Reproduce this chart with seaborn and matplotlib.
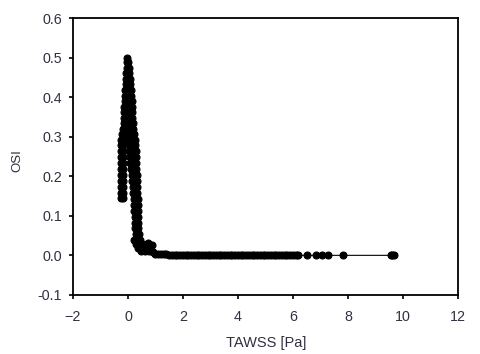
import numpy as np
import pandas as pd
import matplotlib
matplotlib.use("Agg")
import matplotlib.pyplot as plt
import seaborn as sns

# --- DADOS ---
# faixa esquerda do pico (TAWSS < 0)
band_x = [-0.27, -0.18, -0.27, -0.18, -0.27, -0.18, -0.27, -0.18, -0.27, -0.18,
          -0.27, -0.18, -0.27, -0.18, -0.27, -0.18, -0.27, -0.18, -0.27, -0.18]
band_y = [0.145, 0.145, 0.158, 0.158, 0.173, 0.173, 0.188, 0.188, 0.203, 0.203,
          0.218, 0.218, 0.233, 0.233, 0.248, 0.248, 0.263, 0.263, 0.278, 0.278]

# parte superior do pico
peak_x = [-0.02,
          -0.04, 0.01,
          -0.05, 0.03,
          -0.06, 0.04,
          -0.07, 0.06,
          -0.08, 0.00, 0.08,
          -0.09, 0.00, 0.10,
          -0.10, 0.01, 0.12,
          -0.11, 0.01, 0.13,
          -0.13, 0.00, 0.14,
          -0.14, 0.00, 0.15,
          -0.15, 0.00, 0.16,
          -0.16, 0.00, 0.18,
          -0.18, 0.00, 0.20,
          -0.20, -0.05, 0.08, 0.22,
          -0.24, -0.10, 0.05, 0.24]
peak_y = [0.500,
          0.488, 0.488,
          0.474, 0.474,
          0.460, 0.460,
          0.446, 0.446,
          0.432, 0.432, 0.432,
          0.418, 0.418, 0.418,
          0.404, 0.404, 0.404,
          0.390, 0.390, 0.390,
          0.376, 0.376, 0.376,
          0.362, 0.362, 0.362,
          0.348, 0.348, 0.348,
          0.334, 0.334, 0.334,
          0.320, 0.320, 0.320,
          0.306, 0.306, 0.306, 0.306,
          0.292, 0.292, 0.292, 0.292]

# descida do lado direito
drop_x = [0.03, 0.14, 0.26,
          0.05, 0.16, 0.28,
          0.07, 0.18, 0.29,
          0.09, 0.20, 0.30,
          0.11, 0.22, 0.31,
          0.13, 0.24, 0.32,
          0.15, 0.25, 0.33,
          0.17, 0.26, 0.34,
          0.20, 0.34,
          0.21, 0.35,
          0.22, 0.35,
          0.23, 0.36,
          0.24, 0.36,
          0.25, 0.37,
          0.26, 0.38,
          0.28, 0.40]
drop_y = [0.278, 0.278, 0.278,
          0.263, 0.263, 0.263,
          0.248, 0.248, 0.248,
          0.233, 0.233, 0.233,
          0.218, 0.218, 0.218,
          0.203, 0.203, 0.203,
          0.188, 0.188, 0.188,
          0.173, 0.173, 0.173,
          0.158, 0.158,
          0.143, 0.143,
          0.128, 0.128,
          0.113, 0.113,
          0.098, 0.098,
          0.083, 0.083,
          0.068, 0.068,
          0.053, 0.053]

# cotovelo
elbow_x = [0.22, 0.32, 0.42, 0.30, 0.40, 0.50, 0.36, 0.46, 0.56, 0.66,
           0.72, 0.86, 0.48, 0.62, 0.76, 0.90]
elbow_y = [0.040, 0.040, 0.040, 0.028, 0.028, 0.028, 0.018, 0.018, 0.018, 0.018,
           0.030, 0.025, 0.010, 0.010, 0.010, 0.008]

# cauda (OSI ~ 0)
tail_x = [1.0, 1.1, 1.2, 1.3, 1.4, 1.5, 1.6, 1.7, 1.8, 1.9,
          2.0, 2.1, 2.2, 2.3, 2.4, 2.5, 2.6, 2.7, 2.8, 2.9,
          3.0, 3.1, 3.2, 3.3, 3.4, 3.5, 3.6, 3.7, 3.8, 3.9,
          4.0, 4.1, 4.2, 4.3, 4.4, 4.5, 4.6, 4.7, 4.8, 4.9,
          5.0, 5.1, 5.2, 5.3, 5.4, 5.5, 5.6, 5.7, 5.8, 5.9,
          6.0, 6.1, 6.2]
tail_y = [0.004, 0.004, 0.003, 0.003, 0.003, 0.002, 0.002, 0.002, 0.002, 0.002,
          0.001, 0.001, 0.001, 0.001, 0.001, 0.001, 0.001, 0.001, 0.001, 0.001,
          0.001, 0.001, 0.001, 0.001, 0.001, 0.0, 0.0, 0.0, 0.0, 0.0,
          0.0, 0.0, 0.0, 0.0, 0.0, 0.0, 0.0, 0.0, 0.0, 0.0,
          0.0, 0.0, 0.0, 0.0, 0.0, 0.0, 0.0, 0.0, 0.0, 0.0,
          0.0, 0.0, 0.0]

# pontos isolados no fim da cauda
outlier_x = [6.5, 6.85, 7.05, 7.27, 7.82, 9.55, 9.62, 9.68]
outlier_y = [0.0, 0.0, 0.0, 0.0, 0.0, 0.0, 0.0, 0.0]
# --------------------

df = pd.concat([
    pd.DataFrame({'TAWSS': band_x, 'OSI': band_y}),
    pd.DataFrame({'TAWSS': peak_x, 'OSI': peak_y}),
    pd.DataFrame({'TAWSS': drop_x, 'OSI': drop_y}),
    pd.DataFrame({'TAWSS': elbow_x, 'OSI': elbow_y}),
    pd.DataFrame({'TAWSS': tail_x, 'OSI': tail_y}),
    pd.DataFrame({'TAWSS': outlier_x, 'OSI': outlier_y}),
], ignore_index=True)

sns.set_style("ticks")
plt.rcParams['font.family'] = ['Liberation Sans', 'DejaVu Sans']
cor_texto = '#303040'

fig = plt.figure(figsize=(4.8, 3.54), dpi=100)
ax = fig.add_axes([0.152, 0.167, 0.802, 0.782])

sns.lineplot(data=df, x='TAWSS', y='OSI', sort=False, estimator=None,
             color='black', linewidth=0.8, marker='o', markersize=5,
             markeredgecolor='black', markeredgewidth=0.8, ax=ax)

ax.set_xlim(-2, 12)
ax.set_ylim(-0.1, 0.6)
ax.set_xticks(np.arange(-2, 13, 2))
ax.set_yticks([-0.1, 0.0, 0.1, 0.2, 0.3, 0.4, 0.5, 0.6])
ax.set_yticklabels(['-0.1', '0.0', '0.1', '0.2', '0.3', '0.4', '0.5', '0.6'])

for s in ax.spines.values():
    s.set_visible(True)
    s.set_linewidth(1.3)
    s.set_color('black')
ax.tick_params(direction='out', length=3, width=1.2, color='black',
               labelsize=10.3, labelcolor=cor_texto)
ax.tick_params(axis='x', pad=8)
ax.tick_params(axis='y', pad=5)

ax.set_xlabel('TAWSS [Pa]', fontsize=10.5, color=cor_texto)
ax.set_ylabel('OSI', fontsize=9.5, color=cor_texto)
ax.xaxis.set_label_coords(0.501, -0.148)
ax.yaxis.set_label_coords(-0.128, 0.487)

plt.savefig('out.png', dpi=100)
plt.close()
